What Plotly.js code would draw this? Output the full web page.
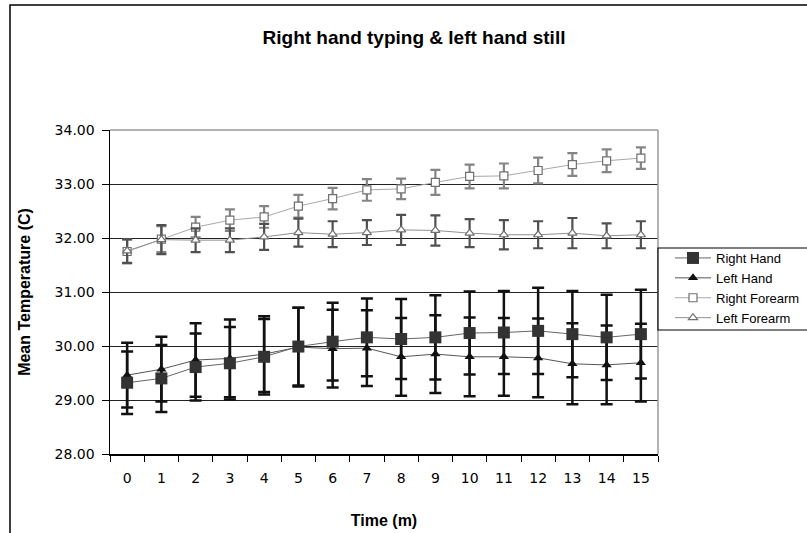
<!DOCTYPE html>
<html>
<head>
<meta charset="utf-8">
<script src="https://cdn.plot.ly/plotly-3.0.1.min.js"></script>
<style>
html,body{margin:0;padding:0;background:#fff;overflow:hidden;width:807px;height:533px;}
#chart{width:830px;height:533px;}
</style>
</head>
<body>
<div id="chart"></div>
<script>
const times = ["0","1","2","3","4","5","6","7","8","9","10","11","12","13","14","15"];
const rightHand    = [29.32, 29.40, 29.61, 29.68, 29.80, 29.99, 30.08, 30.16, 30.13, 30.16, 30.24, 30.25, 30.28, 30.22, 30.16, 30.22];
const rightHandErr = [0.58, 0.62, 0.62, 0.67, 0.70, 0.72, 0.72, 0.72, 0.74, 0.78, 0.77, 0.77, 0.80, 0.80, 0.79, 0.82];
const leftHand     = [29.46, 29.57, 29.74, 29.77, 29.85, 29.98, 29.95, 29.96, 29.80, 29.85, 29.80, 29.80, 29.78, 29.67, 29.65, 29.69];
const leftHandErr  = [0.60, 0.60, 0.68, 0.72, 0.70, 0.73, 0.72, 0.70, 0.72, 0.72, 0.73, 0.72, 0.73, 0.75, 0.73, 0.72];
const rightForearm    = [31.75, 31.98, 32.20, 32.33, 32.39, 32.59, 32.73, 32.89, 32.91, 33.03, 33.14, 33.15, 33.25, 33.36, 33.43, 33.48];
const rightForearmErr = [0.22, 0.24, 0.19, 0.20, 0.20, 0.21, 0.20, 0.20, 0.19, 0.23, 0.22, 0.23, 0.24, 0.21, 0.21, 0.20];
const leftForearm     = [31.76, 31.97, 31.96, 31.96, 32.02, 32.10, 32.07, 32.10, 32.15, 32.14, 32.09, 32.06, 32.06, 32.09, 32.04, 32.06];
const leftForearmErr  = [0.22, 0.27, 0.22, 0.22, 0.24, 0.26, 0.24, 0.23, 0.28, 0.28, 0.26, 0.27, 0.25, 0.28, 0.23, 0.25];
const seriesNames = ["Right Hand", "Left Hand", "Right Forearm", "Left Forearm"];

const FONT = '"Liberation Sans", Arial, Helvetica, sans-serif';
const TICKFONT = '"DejaVu Sans", "Liberation Sans", sans-serif';

const traces = [
  {
    x: times, y: rightForearm, name: seriesNames[2], type: 'scatter', mode: 'lines+markers',
    line: {color: '#a8a8a8', width: 1},
    marker: {symbol: 'square', size: 8, color: '#ffffff', line: {color: '#707070', width: 1.2}},
    error_y: {type: 'data', array: rightForearmErr, visible: true, color: '#858585', thickness: 2.2, width: 5},
    legendrank: 3
  },
  {
    x: times, y: leftForearm, name: seriesNames[3], type: 'scatter', mode: 'lines+markers',
    line: {color: '#909090', width: 1},
    marker: {symbol: 'triangle-up', size: 8, color: '#ffffff', line: {color: '#707070', width: 1.2}},
    error_y: {type: 'data', array: leftForearmErr, visible: true, color: '#505050', thickness: 2.2, width: 5},
    legendrank: 4
  },
  {
    x: times, y: leftHand, name: seriesNames[1], type: 'scatter', mode: 'lines+markers',
    line: {color: '#555555', width: 1},
    marker: {symbol: 'triangle-up', size: 9, color: '#111111'},
    error_y: {type: 'data', array: leftHandErr, visible: true, color: '#111111', thickness: 2.5, width: 6},
    legendrank: 2
  },
  {
    x: times, y: rightHand, name: seriesNames[0], type: 'scatter', mode: 'lines+markers',
    line: {color: '#666666', width: 1},
    marker: {symbol: 'square', size: 12, color: '#333333'},
    error_y: {type: 'data', array: rightHandErr, visible: true, color: '#111111', thickness: 2.5, width: 6},
    legendrank: 1
  }
];

// layout is wider than the 807px window so that the legend box is cut at the right edge, as in the reference
const L = 110, R = 658, T = 130, B = 454;
const W = 830, H = 533;
const pw = R - L, ph = B - T;
function px2x(px){ return (px - L) / pw; }
function px2y(py){ return (B - py) / ph; }

const layout = {
  width: W, height: H,
  margin: {l: L, r: W - R, t: T, b: H - B},
  paper_bgcolor: '#ffffff',
  plot_bgcolor: '#ffffff',
  font: {family: FONT, size: 12, color: '#000'},
  showlegend: true,
  title: {
    text: '<b>Right hand typing & left hand still</b>',
    font: {family: FONT, size: 19, color: '#000'},
    x: px2x(414), xanchor: 'center', xref: 'paper',
    y: 1 - 37 / H, yanchor: 'middle', yref: 'container'
  },
  xaxis: {
    type: 'category',
    range: [-0.5, 15.5],
    tickson: 'boundaries',
    ticks: 'outside', ticklen: 6, tickwidth: 1, tickcolor: '#000',
    ticklabelstandoff: 11,
    showline: true, linecolor: '#000', linewidth: 1.5,
    showgrid: false, zeroline: false,
    tickfont: {family: TICKFONT, size: 14, color: '#000'},
    title: {text: '<b>Time (m)</b>', font: {family: FONT, size: 16, color: '#000'}, standoff: 29},
    automargin: false
  },
  yaxis: {
    range: [28, 34],
    dtick: 1, tick0: 28,
    tickformat: '.2f',
    ticks: 'outside', ticklen: 7, tickwidth: 1, tickcolor: '#000',
    ticklabelstandoff: 4,
    showline: true, linecolor: '#000', linewidth: 1.5,
    showgrid: true, gridcolor: '#222', gridwidth: 1,
    zeroline: false,
    tickfont: {family: TICKFONT, size: 14, color: '#000'},
    title: {text: '<b>Mean Temperature (C)</b>', font: {family: FONT, size: 16, color: '#000'}, standoff: 20},
    automargin: false
  },
  legend: {
    x: px2x(670), xanchor: 'left',
    y: px2y(243), yanchor: 'top',
    bgcolor: 'rgba(0,0,0,0)', borderwidth: 0,
    font: {family: FONT, size: 13, color: '#000'},
    tracegroupgap: 0,
    itemwidth: 36
  },
  shapes: [
    {type: 'line', xref: 'paper', yref: 'paper', x0: 0, x1: 1, y0: 1, y1: 1, line: {color: '#9a9a9a', width: 1.5}, layer: 'above'},
    {type: 'line', xref: 'paper', yref: 'paper', x0: 1, x1: 1, y0: 0, y1: 1, line: {color: '#9a9a9a', width: 1.5}, layer: 'above'},
    {type: 'rect', xref: 'paper', yref: 'paper', x0: px2x(10), x1: px2x(900), y0: px2y(5), y1: px2y(600), line: {color: '#000', width: 1.5}, layer: 'below'},
    {type: 'rect', xref: 'paper', yref: 'paper', x0: px2x(658), x1: px2x(850), y0: px2y(248), y1: px2y(330), line: {color: '#000', width: 1.2}, fillcolor: '#ffffff', layer: 'above'}
  ]
};

Plotly.newPlot('chart', traces, layout, {displayModeBar: false, staticPlot: true});
</script>
</body>
</html>
